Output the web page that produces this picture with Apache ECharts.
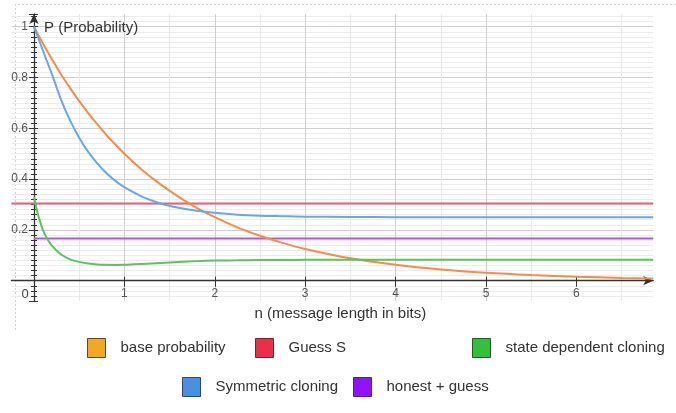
<!DOCTYPE html>
<html>
<head>
<meta charset="utf-8">
<script src="https://cdn.jsdelivr.net/npm/echarts@6/dist/echarts.min.js"></script>
<style>
html,body{margin:0;padding:0;background:#fff;}
#c{width:676px;height:413px;}
</style>
</head>
<body>
<div id="c"></div>
<script>
// ---- data ----
const nValues      = [0, 0.025, 0.05, 0.1, 0.15, 0.2, 0.3, 0.4, 0.5, 0.6, 0.7, 0.8, 0.9, 1, 1.2, 1.4, 1.6, 1.8, 2, 2.25, 2.5, 2.75, 3, 3.5, 4, 4.5, 5, 5.5, 6, 6.5, 6.85];
const baseProb     = [1, 0.983, 0.966, 0.933, 0.901, 0.871, 0.812, 0.758, 0.707, 0.66, 0.616, 0.574, 0.536, 0.5, 0.435, 0.379, 0.33, 0.287, 0.25, 0.21, 0.177, 0.149, 0.125, 0.088, 0.0625, 0.044, 0.031, 0.022, 0.0156, 0.011, 0.0087];
const symCloning   = [1, 0.976, 0.953, 0.905, 0.858, 0.811, 0.712, 0.63, 0.563, 0.507, 0.462, 0.424, 0.393, 0.368, 0.33, 0.304, 0.287, 0.275, 0.267, 0.26, 0.256, 0.254, 0.252, 0.251, 0.25, 0.25, 0.25, 0.25, 0.25, 0.25, 0.25];
const stateCloning = [0.33, 0.288, 0.254, 0.198, 0.163, 0.137, 0.103, 0.084, 0.074, 0.068, 0.064, 0.0625, 0.062, 0.0625, 0.066, 0.07, 0.074, 0.077, 0.079, 0.080, 0.081, 0.0815, 0.082, 0.082, 0.082, 0.082, 0.082, 0.082, 0.082, 0.082, 0.082];
const guessS       = [[-0.25, 0.304], [6.85, 0.304]];
const honestGuess  = [[0, 0.1665], [6.85, 0.1665]];
const seriesNames  = ['base probability', 'Guess S', 'state dependent cloning', 'Symmetric cloning', 'honest + guess'];
const xTickLabels  = ['0', '1', '2', '3', '4', '5', '6'];
const yTickLabels  = ['0.2', '0.4', '0.6', '0.8', '1'];

const zip = (xs, ys) => xs.map((x, i) => [x, ys[i]]);
const xTickValues = xTickLabels.map(Number);

const lineColors = ['#F68C4A', '#E2617D', '#5BC45C', '#6AA7EA', '#B556D8'];
const iconColors = ['#F5A623', '#EE2D47', '#33C13B', '#4A90E2', '#9013FE'];
const legendPos  = [[87, 338], [255, 338], [472, 338], [182, 377], [353, 377]];

const FONT = '"Liberation Sans", Arial, sans-serif';

const legends = seriesNames.map((name, i) => ({
  left: legendPos[i][0], top: legendPos[i][1], padding: 0,
  itemWidth: 18, itemHeight: 19,
  selectedMode: false,
  textStyle: { fontFamily: FONT, fontSize: 15, color: '#333', padding: [0, 0, 0, 10] },
  data: [{ name, icon: 'rect', itemStyle: { color: iconColors[i], borderColor: 'rgba(0,0,0,0.65)', borderWidth: 1 } }]
}));

const chart = echarts.init(document.getElementById('c'), null, { renderer: 'canvas' });

// plot frame
const X_MIN = -0.25, X_MAX = 6.85, Y_MIN = -0.08, Y_MAX = 1.05;
const G_LEFT = 11.4, G_RIGHT = 22.8, G_TOP = 14, G_H = 287;
const G_W = 676 - G_LEFT - G_RIGHT;
const zeroX = G_LEFT + G_W * (0 - X_MIN) / (X_MAX - X_MIN);
const zeroY = G_TOP + G_H * (Y_MAX - 0) / (Y_MAX - Y_MIN);
const G_BOTTOM_EDGE = G_TOP + G_H;
const G_RIGHT_EDGE = G_LEFT + G_W;

chart.setOption({
  animation: false,
  backgroundColor: '#fff',
  textStyle: { fontFamily: FONT },
  legend: legends,
  grid: { left: G_LEFT, right: G_RIGHT, top: G_TOP, height: G_H, containLabel: false, outerBoundsMode: 'none' },
  graphic: [
    { type: 'polyline', silent: true, shape: { points: [[15.5, 330], [15.5, 4.5], [676, 4.5]] },
      style: { stroke: '#d0d0d0', lineWidth: 1, lineDash: [2, 2], fill: null } }
  ],
  xAxis: [
    {
      type: 'value', min: X_MIN, max: X_MAX, splitNumber: 7, minInterval: 1, maxInterval: 1,
      position: 'bottom', offset: -(G_BOTTOM_EDGE - zeroY),
      name: 'n (message length in bits)', nameLocation: 'middle', nameGap: 26,
      nameTextStyle: { fontFamily: FONT, fontSize: 15, color: '#333', padding: [0, 0, 0, 16] },
      axisLine: { onZero: false, symbol: ['none', 'arrow'], symbolSize: [7, 10],
                  lineStyle: { color: '#333', width: 1.3 } },
      axisTick: { show: true, length: 6, customValues: xTickValues, lineStyle: { color: '#333', width: 1 } },
      minorTick: { show: false, splitNumber: 2 },
      axisLabel: {
        margin: 7, color: '#555', fontSize: 12, fontFamily: FONT,
        customValues: xTickValues,
        formatter: v => {
          if (v < -1e-6 || Math.abs(v - Math.round(v)) > 1e-6) return '';
          const s = xTickLabels[Math.round(v)];
          if (s === undefined) return '';
          return v === 0 ? '{z|' + s + '}' : s;
        },
        rich: { z: { fontSize: 13, color: '#444', padding: [0, 18, 0, 0], fontFamily: FONT } }
      },
      splitLine: { show: true, showMinLine: false, showMaxLine: false, lineStyle: { color: '#cfcfcf', width: 1 } },
      minorSplitLine: { show: true, lineStyle: { color: '#e9e9e9', width: 1 } }
    },
    {
      type: 'value', min: X_MIN, max: X_MAX, splitNumber: 7, minInterval: 1, maxInterval: 1,
      position: 'top', offset: -(zeroY - G_TOP),
      axisLine: { show: false, onZero: false },
      axisTick: { show: true, length: 4, customValues: xTickValues, lineStyle: { color: '#333', width: 1 } },
      axisLabel: { show: false },
      splitLine: { show: false }
    }
  ],
  yAxis: [
    {
      type: 'value', min: Y_MIN, max: Y_MAX, splitNumber: 5, minInterval: 0.2, maxInterval: 0.2,
      position: 'left', offset: -(zeroX - G_LEFT),
      name: 'P (Probability)', nameLocation: 'end', nameGap: -13.5,
      nameTextStyle: { fontFamily: FONT, fontSize: 15, color: '#333', align: 'left', verticalAlign: 'middle', padding: [0, 0, 0, 10] },
      axisLine: { onZero: false, symbol: ['none', 'arrow'], symbolSize: [7, 10],
                  lineStyle: { color: '#333', width: 1.3 } },
      axisTick: { show: true, length: 5, lineStyle: { color: '#333', width: 1 } },
      minorTick: { show: true, splitNumber: 10, length: 3, lineStyle: { color: '#333', width: 1 } },
      axisLabel: {
        margin: 6, color: '#555', fontSize: 12, fontFamily: FONT,
        formatter: v => {
          const k = Math.round(v / 0.2);
          if (v < 0.01 || Math.abs(v / 0.2 - k) > 1e-6) return '';
          return yTickLabels[k - 1] || '';
        }
      },
      splitLine: { show: true, showMinLine: false, showMaxLine: false, lineStyle: { color: '#cfcfcf', width: 1 } },
      minorSplitLine: { show: true, lineStyle: { color: '#ececec', width: 1 } }
    },
    {
      type: 'value', min: Y_MIN, max: Y_MAX, splitNumber: 5, minInterval: 0.2, maxInterval: 0.2,
      position: 'right', offset: -(G_RIGHT_EDGE - zeroX),
      axisLine: { show: false, onZero: false },
      axisTick: { show: true, length: 4, lineStyle: { color: '#333', width: 1 } },
      minorTick: { show: true, splitNumber: 10, length: 3, lineStyle: { color: '#333', width: 1 } },
      axisLabel: { show: false },
      splitLine: { show: false }
    }
  ],
  series: [
    { name: seriesNames[0], type: 'line', data: zip(nValues, baseProb), smooth: 0.3,
      symbol: 'none', lineStyle: { color: lineColors[0], width: 2 }, itemStyle: { color: lineColors[0] }, z: 3 },
    { name: seriesNames[1], type: 'line', data: guessS, symbol: 'none',
      lineStyle: { color: lineColors[1], width: 2 }, itemStyle: { color: lineColors[1] }, z: 2 },
    { name: seriesNames[2], type: 'line', data: zip(nValues, stateCloning), smooth: 0.3,
      symbol: 'none', lineStyle: { color: lineColors[2], width: 2 }, itemStyle: { color: lineColors[2] }, z: 3 },
    { name: seriesNames[3], type: 'line', data: zip(nValues, symCloning), smooth: 0.3,
      symbol: 'none', lineStyle: { color: lineColors[3], width: 2 }, itemStyle: { color: lineColors[3] }, z: 3 },
    { name: seriesNames[4], type: 'line', data: honestGuess, symbol: 'none',
      lineStyle: { color: lineColors[4], width: 2 }, itemStyle: { color: lineColors[4] }, z: 2 }
  ]
});
</script>
</body>
</html>
